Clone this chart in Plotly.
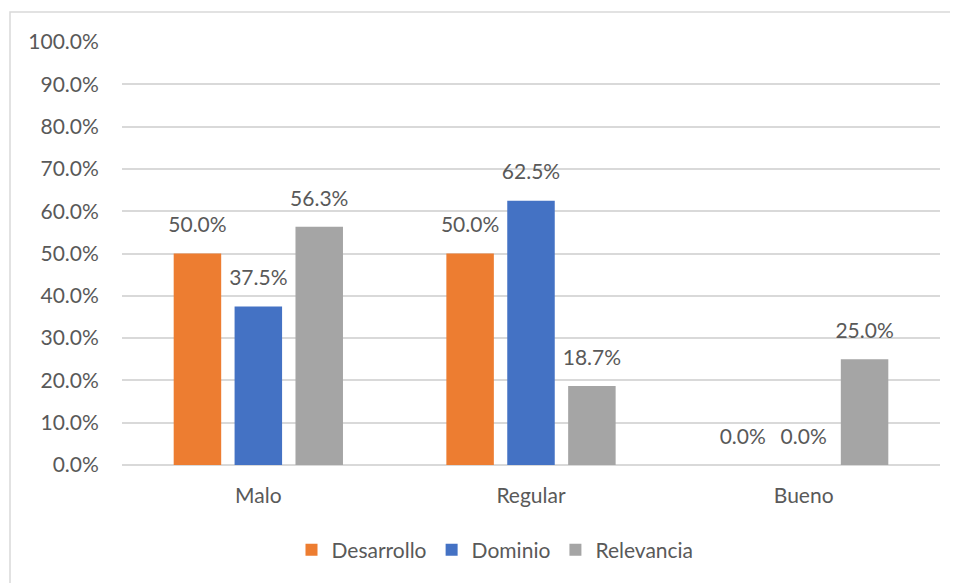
import plotly.graph_objects as go

categories = ["Malo", "Regular", "Bueno"]
desarrollo = [0.50, 0.50, 0.0]
dominio = [0.375, 0.625, 0.0]
relevancia = [0.563, 0.187, 0.25]
y_ticks = [i / 10 for i in range(11)]

series = [
    ("Desarrollo", desarrollo, "#ED7D31"),
    ("Dominio", dominio, "#4472C4"),
    ("Relevancia", relevancia, "#A5A5A5"),
]

FONT = "Lato, Carlito, Calibri, sans-serif"
TXT = "#595959"
FS = 21

fig = go.Figure()
for name, vals, col in series:
    fig.add_trace(go.Bar(
        x=categories, y=vals, name=name,
        marker=dict(color=col, line=dict(width=0)),
        cliponaxis=False,
    ))
for name, vals, col in series:
    fig.add_trace(go.Scatter(
        x=categories, y=vals, name=name + " labels", mode="markers+text",
        text=[f"{v:.1%}" for v in vals], textposition="top center",
        textfont=dict(family=FONT, size=FS, color=TXT),
        marker=dict(size=24, color="rgba(0,0,0,0)", line=dict(width=0)),
        showlegend=False, cliponaxis=False, hoverinfo="skip",
    ))

# page body has an 8px margin: shrink figure so it fits the window
W, H = 950, 575
ml, mr, mt, mb = 114, 18, 34, 118
pw, ph = W - ml - mr, H - mt - mb

fig.update_layout(
    width=W, height=H,
    margin=dict(l=ml, r=mr, t=mt, b=mb, autoexpand=False),
    paper_bgcolor="white", plot_bgcolor="white",
    barmode="group", bargap=0.33, bargroupgap=0.22,
    scattermode="group", scattergap=0.33,
    font=dict(family=FONT, size=FS, color=TXT),
    showlegend=True,
    legend=dict(orientation="h", x=(487 - ml) / pw, xanchor="center",
                y=(457 - 542) / ph, yanchor="middle",
                font=dict(family=FONT, size=FS, color=TXT),
                itemwidth=30, traceorder="normal"),
    xaxis=dict(showgrid=False, showline=False, zeroline=False,
               ticks="outside", ticklen=12, tickcolor="rgba(0,0,0,0)",
               tickfont=dict(family=FONT, size=FS, color=TXT)),
    yaxis=dict(range=[0, 1.0], tickvals=y_ticks, tickformat=".1%",
               showgrid=True, gridcolor="#D9D9D9", gridwidth=1.5,
               zeroline=True, zerolinecolor="#D9D9D9", zerolinewidth=1.5,
               showline=False,
               ticks="outside", ticklen=18, tickcolor="rgba(0,0,0,0)",
               tickfont=dict(family=FONT, size=FS, color=TXT)),
    shapes=[dict(type="rect", xref="paper", yref="paper",
                 x0=(2 - ml) / pw, x1=(975 - ml) / pw,
                 y0=(H - mb - 600) / ph, y1=(H - mb - 4) / ph,
                 line=dict(color="#D9D9D9", width=1.5), fillcolor="rgba(0,0,0,0)",
                 layer="below")],
)

fig.write_html("out.html")
